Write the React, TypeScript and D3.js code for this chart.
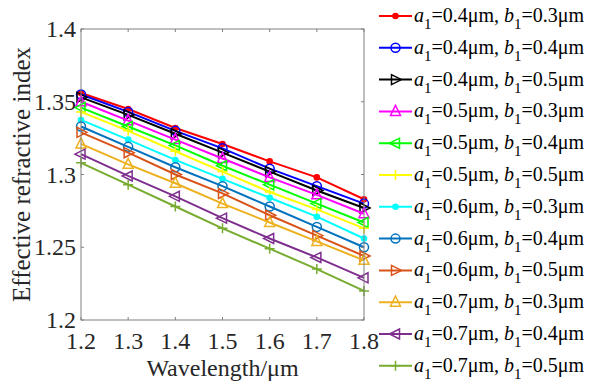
import React from "react";
import * as d3 from "d3";

const wavelengths = [1.2, 1.3, 1.4, 1.5, 1.6, 1.7, 1.8];
const xTicks = [1.2, 1.3, 1.4, 1.5, 1.6, 1.7, 1.8];
const yTicks = [1.2, 1.25, 1.3, 1.35, 1.4];

const aValues = ["0.4", "0.4", "0.4", "0.5", "0.5", "0.5", "0.6", "0.6", "0.6", "0.7", "0.7", "0.7"];
const bValues = ["0.3", "0.4", "0.5", "0.3", "0.4", "0.5", "0.3", "0.4", "0.5", "0.3", "0.4", "0.5"];

const s1 = [1.356, 1.345, 1.332, 1.321, 1.309, 1.298, 1.283];
const s2 = [1.355, 1.343, 1.330, 1.318, 1.304, 1.292, 1.280];
const s3 = [1.353, 1.341, 1.328, 1.315, 1.302, 1.289, 1.277];
const s4 = [1.350, 1.337, 1.324, 1.311, 1.298, 1.286, 1.273];
const s5 = [1.346, 1.333, 1.320, 1.306, 1.293, 1.280, 1.267];
const s6 = [1.343, 1.330, 1.316, 1.302, 1.288, 1.276, 1.263];
const s7 = [1.3375, 1.324, 1.310, 1.297, 1.284, 1.271, 1.256];
const s8 = [1.333, 1.319, 1.305, 1.292, 1.278, 1.264, 1.250];
const s9 = [1.329, 1.315, 1.300, 1.287, 1.272, 1.258, 1.244];
const s10 = [1.321, 1.307, 1.294, 1.280, 1.267, 1.254, 1.241];
const s11 = [1.314, 1.299, 1.285, 1.270, 1.256, 1.243, 1.229];
const s12 = [1.308, 1.293, 1.278, 1.263, 1.249, 1.235, 1.220];

const seriesValues = [s1, s2, s3, s4, s5, s6, s7, s8, s9, s10, s11, s12];
const colors = [
  "#ff0000", "#0000ff", "#000000", "#ff00ff", "#00ff00", "#ffff00",
  "#00ffff", "#0072bd", "#d95319", "#edb120", "#7e2f8e", "#77ac30",
];
const markers = ["dot", "circle", "right", "up", "left", "plus", "dot", "circle", "right", "up", "left", "plus"];

const W = 590, H = 381;
const M = { left: 81, top: 29, right: 364, bottom: 320 };
const FONT = "'Liberation Serif', 'Times New Roman', serif";
const AXC = "#262626";

function Marker({ type, x, y, color }: { type: string; x: number; y: number; color: string }) {
  const s = 5;
  const sw = 1.5;
  if (type === "dot") return <circle cx={x} cy={y} r={3.3} fill={color} />;
  if (type === "circle") return <circle cx={x} cy={y} r={4.5} fill="none" stroke={color} strokeWidth={sw} />;
  if (type === "plus")
    return (
      <path d={`M${x - s},${y}H${x + s}M${x},${y - s}V${y + s}`} stroke={color} strokeWidth={sw} fill="none" />
    );
  let pts: [number, number][] = [];
  if (type === "up") pts = [[x, y - s - 1], [x - s, y + s - 1], [x + s, y + s - 1]];
  if (type === "right") pts = [[x + s + 1, y], [x - s + 1, y - s], [x - s + 1, y + s]];
  if (type === "left") pts = [[x - s - 1, y], [x + s - 1, y - s], [x + s - 1, y + s]];
  return (
    <polygon points={pts.map((p) => p.join(",")).join(" ")} fill="none" stroke={color} strokeWidth={sw} strokeLinejoin="miter" />
  );
}

export default function App() {
  const x = d3.scaleLinear().domain([1.2, 1.8]).range([M.left, M.right]);
  const y = d3.scaleLinear().domain([1.2, 1.4]).range([M.bottom, M.top]);
  const line = d3
    .line<number>()
    .x((_, i) => x(wavelengths[i]))
    .y((d) => y(d));

  const legendX0 = 379, legendX1 = 412, legendY0 = 16, legendDy = 31.8;
  const tickLen = 3;

  return (
    <svg width={W} height={H} style={{ position: "absolute", left: 0, top: 0, background: "#fff" }} fontFamily={FONT}>
      <rect x={0} y={0} width={W} height={H} fill="#fff" />
      {seriesValues.map((vals, k) => (
        <g key={k}>
          <path d={line(vals) || ""} fill="none" stroke={colors[k]} strokeWidth={2} />
          {vals.map((v, i) => (
            <Marker key={i} type={markers[k]} x={x(wavelengths[i])} y={y(v)} color={colors[k]} />
          ))}
        </g>
      ))}
      <rect x={M.left} y={M.top} width={M.right - M.left} height={M.bottom - M.top} fill="none" stroke="#808080" strokeWidth={1} />
      {xTicks.map((t) => (
        <g key={"x" + t}>
          <line x1={x(t)} x2={x(t)} y1={M.bottom} y2={M.bottom - tickLen} stroke="#808080" />
          <line x1={x(t)} x2={x(t)} y1={M.top} y2={M.top + tickLen} stroke="#808080" />
          <text x={x(t)} y={349} textAnchor="middle" fontSize={24} fill={AXC}>
            {t.toFixed(1)}
          </text>
        </g>
      ))}
      {yTicks.map((t) => (
        <g key={"y" + t}>
          <line x1={M.left} x2={M.left + tickLen} y1={y(t)} y2={y(t)} stroke="#808080" />
          <line x1={M.right} x2={M.right - tickLen} y1={y(t)} y2={y(t)} stroke="#808080" />
          <text x={76} y={y(t) + 8} textAnchor="end" fontSize={24} fill={AXC}>
            {String(+t.toFixed(2))}
          </text>
        </g>
      ))}
      <text x={(M.left + M.right) / 2} y={376} textAnchor="middle" fontSize={24} fill={AXC}>
        Wavelength/μm
      </text>
      <text
        transform={`translate(30,${(M.top + M.bottom) / 2}) rotate(-90)`}
        textAnchor="middle"
        fontSize={25}
        fill={AXC}
      >
        Effective refractive index
      </text>
      {seriesValues.map((_, k) => {
        const ly = legendY0 + k * legendDy;
        return (
          <g key={"l" + k}>
            <line x1={legendX0} x2={legendX1} y1={ly} y2={ly} stroke={colors[k]} strokeWidth={2} />
            <Marker type={markers[k]} x={(legendX0 + legendX1) / 2} y={ly} color={colors[k]} />
            <text x={414} y={ly + 6} fontSize={20} fill="#000">
              <tspan fontStyle="italic">a</tspan>
              <tspan dy={7} fontSize={15}>1</tspan>
              <tspan dy={-7}>{`=${aValues[k]}μm, `}</tspan>
              <tspan fontStyle="italic">b</tspan>
              <tspan dy={7} fontSize={15}>1</tspan>
              <tspan dy={-7}>{`=${bValues[k]}μm`}</tspan>
            </text>
          </g>
        );
      })}
    </svg>
  );
}
